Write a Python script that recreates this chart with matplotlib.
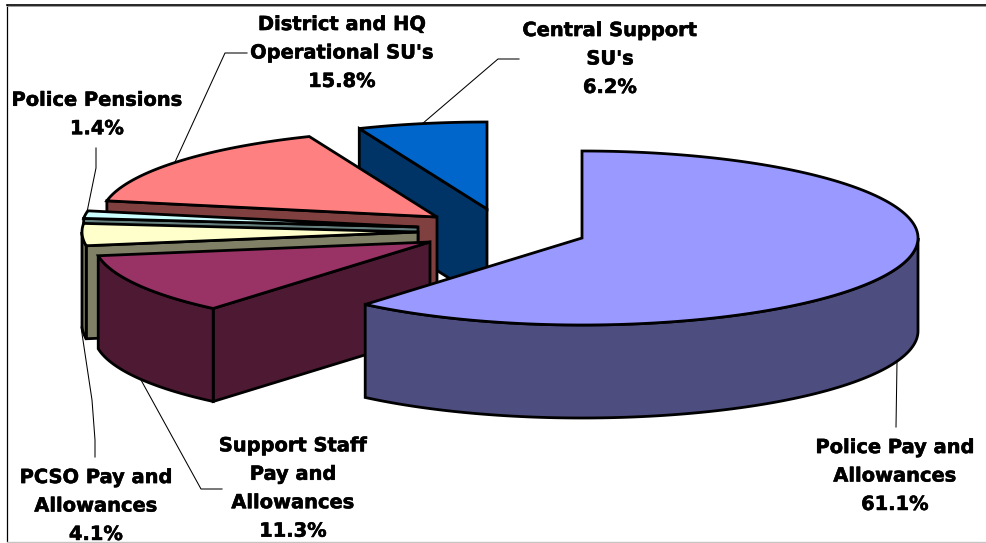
import numpy as np
import matplotlib
matplotlib.use("Agg")
import matplotlib.pyplot as plt
import matplotlib.patheffects as pe
from matplotlib.patches import Polygon

names = ["Police Pay and\nAllowances", "Support Staff\nPay and\nAllowances",
         "PCSO Pay and\nAllowances", "Police Pensions",
         "District and HQ\nOperational SU's", "Central Support\nSU's"]
values = [61.1, 11.3, 4.1, 1.4, 15.8, 6.2]
top_colors = ["#9999FF", "#993366", "#FFFFCC", "#CCFFFF", "#FF8080", "#0066CC"]
wall_colors = ["#4D4D80", "#4D1933", "#808066", "#668080", "#804040", "#003366"]
centers = [(582, 238), (430, 242), (418, 232), (418, 227), (437, 217), (487, 209)]
paint_order = [5, 4, 3, 2, 1, 0]
label_pos = [(895, 476), (293, 488.5), (96, 506), (97, 114.5), (342, 53), (610, 59)]
leaders = [
    [(897, 362), (896, 427)],
    [(141, 380), (201, 489), (222, 489)],
    [(81, 327), (92, 400), (95, 440), (95, 457)],
    [(87, 212), (96, 168), (96, 148)],
    [(175, 162), (225, 53), (247, 53)],
    [(422, 124), (498, 59), (519, 59)],
]

RX, RY, DEPTH = 336, 87, 93
LW = 2.0

fig = plt.figure(figsize=(9.87, 5.43), dpi=100)
ax = fig.add_axes([0, 0, 1, 1])
ax.set_xlim(0, 987)
ax.set_ylim(543, 0)
ax.axis("off")

ax.plot([7, 7], [4.5, 541], color="black", lw=0.9, zorder=0)
ax.plot([7, 987], [4.5, 4.5], color="black", lw=1.2, zorder=0)
ax.plot([7, 987], [6, 6], color="#999999", lw=0.7, zorder=0)
ax.plot([7, 987], [541.5, 541.5], color="#C4C4C4", lw=1.0, zorder=0)


def rim(c, a, b, dy=0):
    t = np.radians(np.linspace(a, b, max(int(abs(b - a)) * 2, 2) + 1))
    return np.column_stack([c[0] + RX * np.sin(t), c[1] - RY * np.cos(t) + dy])


total = sum(values)
edges = np.concatenate([[0], np.cumsum(values)]) / total * 360
z = 1
for i in paint_order:
    a, b, c = edges[i], edges[i + 1], centers[i]
    kw = dict(ec="black", lw=LW, joinstyle="miter", fc=wall_colors[i])
    tip = np.array(c, float)
    for ang, vis in ((a, np.sin(np.radians(a)) < 0), (b, np.sin(np.radians(b)) > 0)):
        if vis:
            p = rim(c, ang, ang)[0]
            ax.add_patch(Polygon([tip, p, p + [0, DEPTH], tip + [0, DEPTH]], zorder=z, **kw))
    lo, hi = max(a, 90), min(b, 270)
    if hi > lo:
        ax.add_patch(Polygon(np.vstack([rim(c, lo, hi), rim(c, hi, lo, DEPTH)]), zorder=z, **kw))
    ax.add_patch(Polygon(np.vstack([[tip], rim(c, a, b)]), zorder=z, ec="black", lw=LW,
                         joinstyle="miter", fc=top_colors[i]))
    z += 1

for pts in leaders:
    xs, ys = zip(*pts)
    ax.plot(xs, ys, color="black", lw=0.75, zorder=z)

for name, v, (x, y) in zip(names, values, label_pos):
    ax.text(x, y, f"{name}\n{v:.1f}%", ha="center", va="center", fontsize=14,
            fontweight="bold", family="DejaVu Sans", linespacing=1.63, zorder=z + 1,
            clip_on=False, path_effects=[pe.withStroke(linewidth=0.4, foreground="black")])

fig.savefig("out.png", dpi=100, facecolor="white")
